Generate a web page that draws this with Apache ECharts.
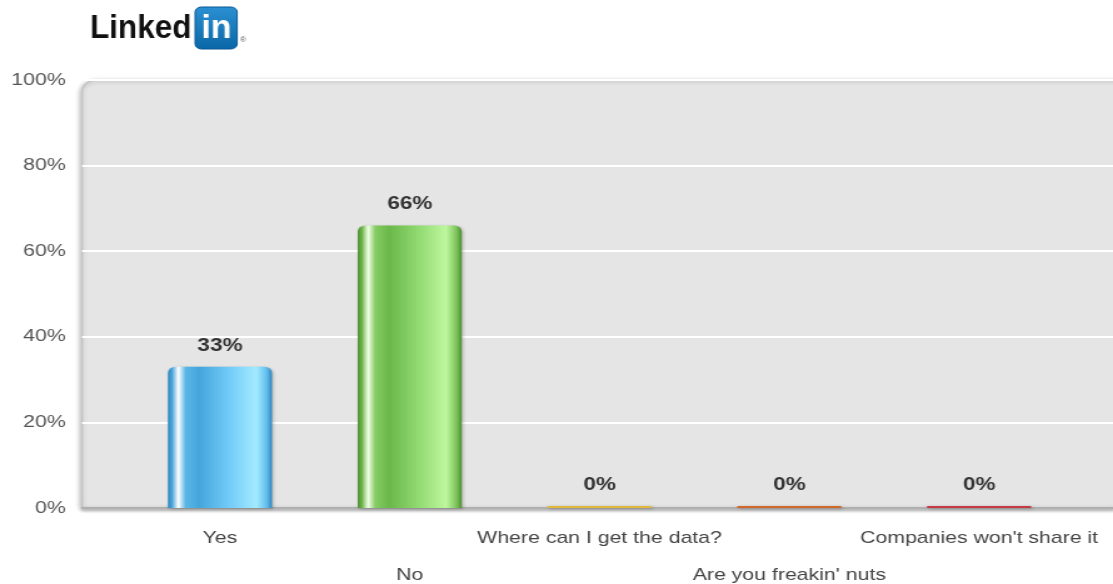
<!DOCTYPE html>
<html>
<head>
<meta charset="utf-8">
<script src="https://cdn.jsdelivr.net/npm/echarts@6/dist/echarts.min.js"></script>
<style>
html,body{margin:0;padding:0;background:#fff;overflow:hidden;}
#wrap{width:1113px;height:584px;overflow:hidden;}
#c{width:890px;height:584px;transform:scaleX(1.2506);transform-origin:0 0;}
</style>
</head>
<body>
<div id="wrap"><div id="c"></div></div>
<script>
const categories = ["Yes", "No", "Where can I get the data?", "Are you freakin' nuts", "Companies won't share it"];
const values = [33, 66, 0, 0, 0];
const yTicks = [0, 20, 40, 60, 80, 100];

const FONT = '"Liberation Sans", Arial, sans-serif';
function grad(c) {
  return new echarts.graphic.LinearGradient(0, 0, 1, 0, c.map(col => ({offset: col[0], color: col[1]})));
}
const barStyles = [
  grad([[0,'#2f86c0'],[0.04,'#4aa6da'],[0.1,'#ffffff'],[0.17,'#5ab6e6'],[0.3,'#45a6dc'],[0.6,'#74cdf9'],[0.85,'#a3eaff'],[0.95,'#62bdec'],[1,'#2f86c0']]),
  grad([[0,'#4c8e2c'],[0.04,'#6cb44a'],[0.1,'#f2ffe6'],[0.17,'#86cc66'],[0.3,'#6ab84a'],[0.6,'#94dc74'],[0.85,'#bff79f'],[0.95,'#7cc25c'],[1,'#4c8e2c']]),
  '#e2b83a',
  '#d2692a',
  '#c63a44'
];

const chart = echarts.init(document.getElementById('c'));
chart.setOption({
  animation: false,
  graphic: [
    {type: 'rect', z: -10, shape: {x: 65.6, y: 80, width: 840, height: 428, r: [12, 12, 0, 0]},
     style: {fill: '#e5e5e5', stroke: '#c4c4c4', lineWidth: 1.5, shadowBlur: 4, shadowColor: 'rgba(0,0,0,0.25)', shadowOffsetX: -1, shadowOffsetY: 1}},
    {type: 'text', x: 72, y: 12, scaleX: 0.74,
     style: {text: 'Linked', font: 'bold 34px ' + FONT, fill: '#111', verticalAlign: 'top'}},
    {type: 'rect', shape: {x: 156, y: 7, width: 33.6, height: 42, r: 5},
     style: {fill: new echarts.graphic.LinearGradient(0,0,0,1,[{offset:0,color:'#2b90d2'},{offset:1,color:'#0a66a6'}]), stroke: '#0b5a94', lineWidth: 1}},
    {type: 'text', x: 161, y: 12, scaleX: 0.8,
     style: {text: 'in', font: 'bold 34px ' + FONT, fill: '#fff', verticalAlign: 'top'}},
    {type: 'text', x: 192, y: 36, scaleX: 0.8,
     style: {text: '®', font: '8px ' + FONT, fill: '#555'}}
  ],
  grid: [
    {left: 65.6, top: 80, right: 0, bottom: 76, outerBoundsMode: 'none', containLabel: false},
    {left: 100, top: 80, right: 31.2, bottom: 76, outerBoundsMode: 'none', containLabel: false}
  ],
  xAxis: [
    {type: 'value', gridIndex: 0, min: 0, max: 1,
     axisLine: {show: true, onZero: false, lineStyle: {color: '#b0b0b0', width: 2, shadowBlur: 3, shadowColor: 'rgba(0,0,0,0.25)', shadowOffsetY: 2}},
     axisTick: {show: false}, axisLabel: {show: false}, splitLine: {show: false}},
    {type: 'category', gridIndex: 1, data: categories,
     axisLine: {show: false},
     axisTick: {show: false},
     axisLabel: {interval: 0, color: '#444', fontSize: 17, fontFamily: FONT,
       lineHeight: 37, margin: 12,
       formatter: function (v, i) { return i % 2 ? '\n' + v : v; }}}
  ],
  yAxis: [
    {type: 'value', gridIndex: 0, min: 0, max: 100, interval: 20,
     axisLine: {show: false}, axisTick: {show: false},
     splitLine: {show: true, lineStyle: {color: '#ffffff', width: 2}},
     axisLabel: {color: '#555', fontSize: 17, margin: 13, fontFamily: FONT,
       formatter: function (v) { return yTicks.indexOf(v) >= 0 ? v + '%' : ''; }}},
    {type: 'value', gridIndex: 1, min: 0, max: 100, show: false}
  ],
  series: [{
    type: 'bar',
    xAxisIndex: 1, yAxisIndex: 1,
    barWidth: 83.2,
    barMinHeight: 2,
    z: 5,
    data: values.map((v, i) => ({value: v, itemStyle: {color: barStyles[i], borderRadius: i < 2 ? [6, 6, 0, 0] : 0}})),
    itemStyle: {shadowBlur: 3, shadowColor: 'rgba(0,0,0,0.25)', shadowOffsetX: 1, shadowOffsetY: 1},
    label: {show: true, position: 'top', distance: 12, formatter: '{c}%', color: '#333', fontWeight: 'bold', fontSize: 18,
      fontFamily: FONT}
  }]
});
</script>
</body>
</html>
